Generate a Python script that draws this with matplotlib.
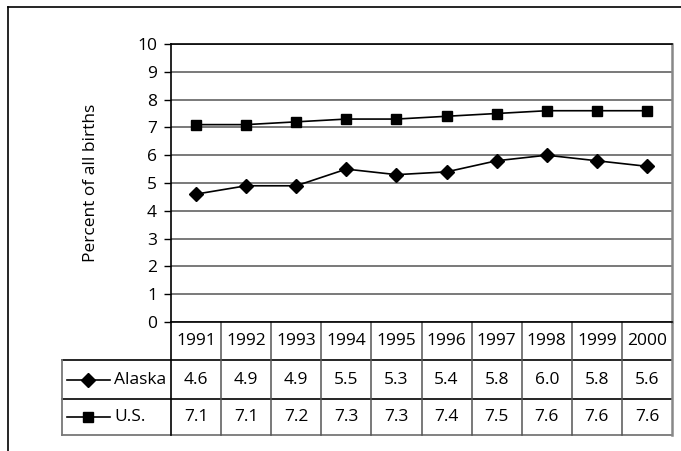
import matplotlib
matplotlib.use("Agg")
import matplotlib.pyplot as plt
from matplotlib.lines import Line2D
from matplotlib.transforms import blended_transform_factory

plt.rcParams['font.family'] = ['Open Sans', 'DejaVu Sans']

## data
years = ["1991", "1992", "1993", "1994", "1995", "1996", "1997", "1998", "1999", "2000"]
alaska = [4.6, 4.9, 4.9, 5.5, 5.3, 5.4, 5.8, 6.0, 5.8, 5.6]
us = [7.1, 7.1, 7.2, 7.3, 7.3, 7.4, 7.5, 7.6, 7.6, 7.6]
series_names = ["Alaska", "U.S."]
series_markers = ["D", "s"]

FS = 12.5
W, H = 681, 451
fig = plt.figure(figsize=(W / 100, H / 100), dpi=100)

## plot area in pixels: x 171..672, y 44..322
ax = fig.add_axes([171 / W, 1 - 322 / H, (672 - 171) / W, (322 - 44) / H])

x = list(range(len(years)))
ax.plot(x, alaska, color="black", lw=1.2, marker="D", markersize=7.5, zorder=3)
ax.plot(x, us, color="black", lw=1.2, marker="s", markersize=7, zorder=3)

ax.set_xlim(-0.5, len(years) - 0.5)
ax.set_ylim(0, 10)
ax.set_yticks(range(0, 11))
ax.set_xticks([])
ax.tick_params(axis="y", length=5, width=1, pad=5, labelsize=FS, colors="black")
ax.yaxis.grid(True, color="#555555", lw=1.1)
ax.set_axisbelow(True)
for side in ["top", "left", "bottom"]:
    ax.spines[side].set_color("black")
    ax.spines[side].set_linewidth(1.2)
ax.spines["right"].set_color("#888888")
ax.spines["right"].set_linewidth(1.8)

fig.text(91 / W, 1 - 183 / H, "Percent of all births", rotation=90,
         ha="center", va="center", fontsize=FS)

## data table under the axis
tr = blended_transform_factory(ax.transData, ax.transAxes)
px = (672 - 171) / len(years)          # pixels per category
ah = 322 - 44                           # axes height in pixels
row_y = [0, -38 / ah, -77 / ah, -113 / ah]
left = -0.5 - (171 - 62) / px

line_kw = dict(transform=tr, clip_on=False, color="black", lw=1.2)
ax.add_line(Line2D([left, 9.5], [row_y[1]] * 2, **line_kw))
ax.add_line(Line2D([left, 9.5], [row_y[2]] * 2, **line_kw))
ax.add_line(Line2D([left, 9.5], [row_y[3]] * 2, transform=tr, clip_on=False, color="#777777", lw=1.3))
ax.add_line(Line2D([left, left], [row_y[1], row_y[3]], transform=tr, clip_on=False, color="#777777", lw=1.3))
ax.add_line(Line2D([-0.5, -0.5], [0, row_y[3]], **line_kw))
for i in range(1, len(years)):
    ax.add_line(Line2D([i - 0.5, i - 0.5], [0, row_y[3]], transform=tr, clip_on=False, color="#555555", lw=1.1))
ax.add_line(Line2D([9.5, 9.5], [0, row_y[3]], transform=tr, clip_on=False, color="#888888", lw=1.8))

for i, yr in enumerate(years):
    ax.text(i, (row_y[0] + row_y[1]) / 2, yr, transform=tr, ha="center", va="center", fontsize=FS)
for r, vals in enumerate([alaska, us]):
    yc = (row_y[r + 1] + row_y[r + 2]) / 2
    for i, v in enumerate(vals):
        ax.text(i, yc, f"{v:.1f}", transform=tr, ha="center", va="center", fontsize=FS)
    ## legend key + name
    k0 = left + 5 / px
    k1 = left + 48 / px
    ax.add_line(Line2D([k0, k1], [yc, yc], transform=tr, clip_on=False, color="black", lw=1.2))
    ax.plot([(k0 + k1) / 2], [yc], transform=tr, clip_on=False, color="black",
            marker=series_markers[r], markersize=7.5 if r == 0 else 7)
    ax.text(left + 52 / px, yc, series_names[r], transform=tr, ha="left", va="center", fontsize=FS)

## outer frame (top and left edges)
fig.add_artist(Line2D([8 / W, 1], [1 - 7 / H, 1 - 7 / H], color="black", lw=1.2))
fig.add_artist(Line2D([8 / W, 8 / W], [0, 1 - 7 / H], color="black", lw=1.2))

fig.savefig("out.png", dpi=100)
